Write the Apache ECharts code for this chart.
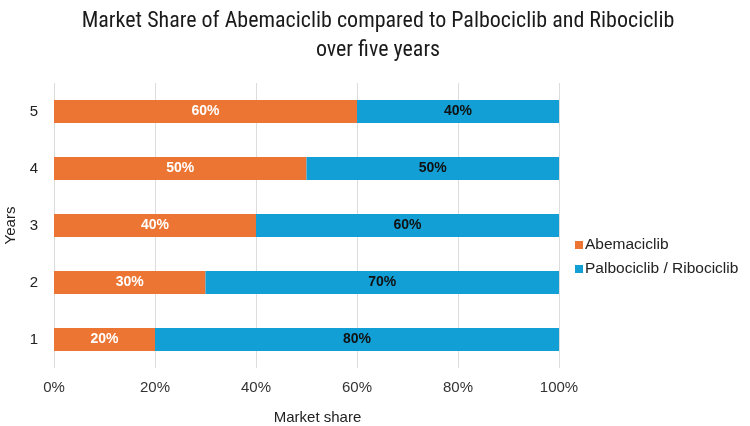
<!DOCTYPE html>
<html>
<head>
<meta charset="utf-8">
<script src="https://cdn.jsdelivr.net/npm/echarts@6/dist/echarts.min.js"></script>
<style>
  html, body { margin: 0; padding: 0; background: #fff; }
  #chart { width: 750px; height: 426px; }
</style>
</head>
<body>
<div id="chart"></div>
<script>
const years = ['1', '2', '3', '4', '5']
const abemaciclib = [20, 30, 40, 50, 60]
const palboRibo = [80, 70, 60, 50, 40]
const xTicks = [0, 20, 40, 60, 80, 100]

const chart = echarts.init(document.getElementById('chart'))

const option = {
  animation: false,
  title: {
    text: 'Market Share of Abemaciclib compared to Palbociclib and Ribociclib\nover five years',
    left: 373,
    textAlign: 'center',
    top: 2,
    textStyle: {
      fontFamily: 'Liberation Sans Narrow, Roboto Condensed, Roboto',
      fontWeight: 'normal',
      fontSize: 22,
      lineHeight: 29,
      color: '#1a1a1a'
    }
  },
  legend: {
    orient: 'vertical',
    left: 570,
    top: 232,
    itemWidth: 8,
    itemHeight: 8,
    itemGap: 8,
    icon: 'rect',
    textStyle: { fontFamily: 'Liberation Sans', fontSize: 15.5, color: '#222', padding: [0, 0, 0, -3] },
    data: ['Abemaciclib', 'Palbociclib / Ribociclib']
  },
  grid: {
    left: 54,
    right: 191,
    top: 83,
    bottom: 58,
    outerBoundsMode: 'none'
  },
  xAxis: {
    type: 'value',
    min: 0,
    max: 100,
    interval: 20,
    name: 'Market share',
    nameLocation: 'middle',
    nameGap: 42,
    nameTextStyle: { fontFamily: 'Liberation Sans', fontSize: 15, color: '#222', padding: [0, 0, 0, 22] },
    axisLine: { show: false },
    axisTick: { show: false },
    axisLabel: {
      fontFamily: 'Liberation Sans',
      fontSize: 15,
      color: '#333',
      margin: 12,
      formatter: v => xTicks.includes(v) ? v + '%' : ''
    },
    splitLine: { lineStyle: { color: '#dcdcdc', width: 1 } }
  },
  yAxis: {
    type: 'category',
    data: years,
    name: 'Years',
    nameLocation: 'middle',
    nameRotate: 90,
    nameGap: 36,
    nameTextStyle: { fontFamily: 'Liberation Sans', fontSize: 15, color: '#222' },
    axisLine: { show: false },
    axisTick: { show: false },
    axisLabel: { fontFamily: 'Liberation Sans', fontSize: 15, color: '#222', margin: 16 }
  },
  series: [
    {
      name: 'Abemaciclib',
      type: 'bar',
      stack: 'share',
      barWidth: 23,
      data: abemaciclib,
      itemStyle: { color: '#ec7533' },
      label: {
        show: true,
        position: 'inside',
        formatter: '{c}%',
        color: '#fff',
        fontFamily: 'Liberation Sans',
        fontWeight: 'bold',
        fontSize: 14
      }
    },
    {
      name: 'Palbociclib / Ribociclib',
      type: 'bar',
      stack: 'share',
      barWidth: 23,
      data: palboRibo,
      itemStyle: { color: '#129fd6' },
      label: {
        show: true,
        position: 'inside',
        formatter: '{c}%',
        color: '#111',
        fontFamily: 'Liberation Sans',
        fontWeight: 'bold',
        fontSize: 14
      }
    }
  ]
}

chart.setOption(option)
</script>
</body>
</html>
